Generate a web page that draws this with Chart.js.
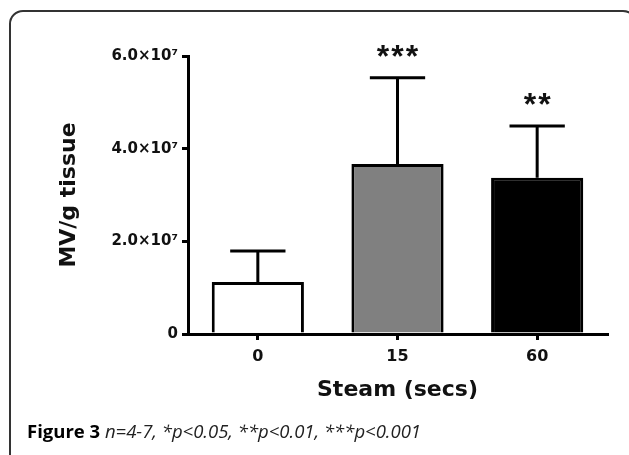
<!DOCTYPE html>
<html><head><meta charset="utf-8">
<script src="https://cdn.jsdelivr.net/npm/chart.js@4"></script>
<style>
html,body{margin:0;padding:0;background:#fff;width:629px;height:455px;overflow:hidden;position:relative}
#frame{position:absolute;left:9px;top:10px;width:624px;height:480px;border:2px solid #333;border-radius:14px 14px 0 0}
#chart{position:absolute;left:0;top:0}
#caption{position:absolute;left:27px;top:420px;font-family:"Open Sans",sans-serif;font-size:18.5px;line-height:22px;color:#222;white-space:nowrap}
#caption b{color:#000;font-weight:700}
#caption i{font-style:italic}
</style></head><body>
<div id="frame"></div>
<canvas id="chart" width="629" height="455"></canvas>
<div id="caption"><b>Figure 3</b> <i>n=4-7, *p&lt;0.05, **p&lt;0.01, ***p&lt;0.001</i></div>
<script>
const categories = ['0', '15', '60'];
const meanValues = [1.12e7, 3.67e7, 3.37e7];
const sdValues = [0.67e7, 1.86e7, 1.12e7];
const significance = ['', '***', '**'];
const barColors = ['#ffffff', '#808080', '#000000'];
const yTickValues = [0, 2e7, 4e7, 6e7];
const xTitle = 'Steam (secs)';
const yTitle = 'MV/g tissue';

const errorBarPlugin = {
  id: 'errorBars',
  afterDatasetsDraw(chart) {
    const ctx = chart.ctx, y = chart.scales.y, meta = chart.getDatasetMeta(0);
    ctx.save();
    ctx.strokeStyle = '#000';
    ctx.lineWidth = 3;
    meta.data.forEach((bar, i) => {
      const x = bar.x;
      const yTop = y.getPixelForValue(meanValues[i] + sdValues[i]);
      const yMean = y.getPixelForValue(meanValues[i]);
      const half = bar.width * 0.3;
      ctx.beginPath();
      ctx.moveTo(x, yMean); ctx.lineTo(x, yTop);
      ctx.moveTo(x - half, yTop); ctx.lineTo(x + half, yTop);
      ctx.stroke();
      if (significance[i]) {
        const size = 32;
        ctx.fillStyle = '#111';
        ctx.font = 'bold ' + size + 'px "Liberation Sans"';
        ctx.letterSpacing = '2px';
        ctx.textAlign = 'center';
        ctx.textBaseline = 'alphabetic';
        ctx.fillText(significance[i], x + 1, yTop - 25 + 0.37 * size + 2);
      }
    });
    ctx.restore();
  }
};

const fmtY = v => v === 0 ? '0' : (v / 1e7).toFixed(1) + '×10⁷';

new Chart(document.getElementById('chart'), {
  type: 'bar',
  data: {
    labels: categories,
    datasets: [{
      data: meanValues,
      backgroundColor: barColors,
      borderColor: '#000',
      borderWidth: 3,
      barPercentage: 0.66,
      categoryPercentage: 1
    }]
  },
  options: {
    responsive: false,
    animation: false,
    devicePixelRatio: 1,
    layout: { padding: { left: 0, right: 22, top: 56, bottom: 0 } },
    plugins: { legend: { display: false }, tooltip: { enabled: false } },
    scales: {
      x: {
        offset: true,
        grid: { display: true, drawOnChartArea: false, drawTicks: true, tickLength: 6, offset: false, color: '#000', lineWidth: 3 },
        border: { display: true, color: '#000', width: 3 },
        ticks: { color: '#111', font: { family: 'DejaVu Sans', size: 16, weight: 'bold' }, padding: 7, maxRotation: 0 },
        title: { display: true, text: xTitle, color: '#111', font: { family: 'DejaVu Sans', size: 22, weight: 'bold' }, padding: { top: 0, bottom: 52 } },
        afterFit: s => { s.height = 121; }
      },
      y: {
        min: 0, max: 6e7,
        afterBuildTicks: s => { s.ticks = yTickValues.map(v => ({ value: v })); },
        grid: { display: true, drawOnChartArea: false, drawTicks: true, tickLength: 6, color: '#000', lineWidth: 3 },
        border: { display: true, color: '#000', width: 3 },
        ticks: { color: '#111', font: { family: 'DejaVu Sans', size: 15, weight: 'bold' }, padding: 4, callback: fmtY },
        title: { display: true, text: yTitle, color: '#111', font: { family: 'DejaVu Sans', size: 22, weight: 'bold' }, padding: { top: 56, bottom: 0 } },
        afterFit: s => { s.width = 188; }
      }
    }
  },
  plugins: [errorBarPlugin]
});
</script>
</body></html>
